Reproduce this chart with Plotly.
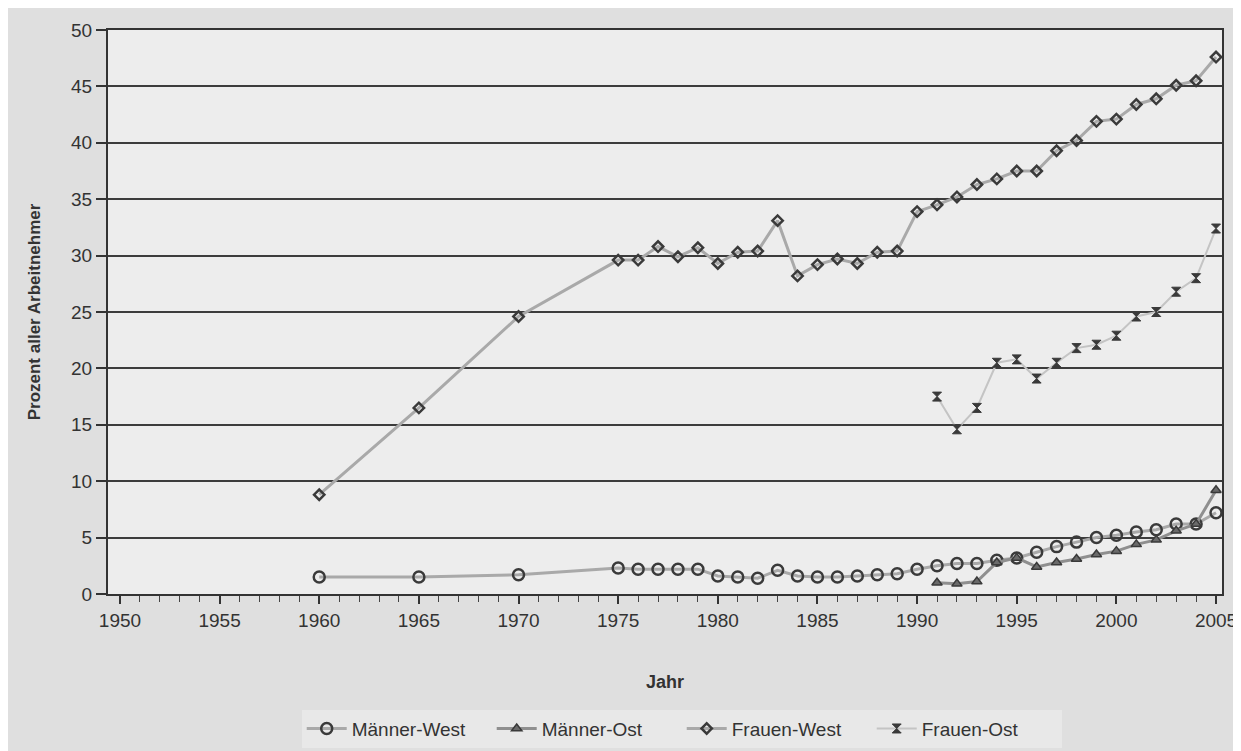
import plotly.graph_objects as go

years_west = [1960, 1965, 1970] + list(range(1975, 2006))
years_ost = list(range(1991, 2006))

maenner_west = [1.5, 1.5, 1.7,
                2.3, 2.2, 2.2, 2.2, 2.2, 1.6, 1.5, 1.4, 2.1, 1.6,
                1.5, 1.5, 1.6, 1.7, 1.8, 2.2, 2.5, 2.7, 2.7, 3.0,
                3.2, 3.7, 4.2, 4.6, 5.0, 5.2, 5.5, 5.7, 6.2, 6.2, 7.2]
frauen_west = [8.8, 16.5, 24.6,
               29.6, 29.6, 30.8, 29.9, 30.7, 29.3, 30.3, 30.4, 33.1, 28.2,
               29.2, 29.7, 29.3, 30.3, 30.4, 33.9, 34.5, 35.2, 36.3, 36.8,
               37.5, 37.5, 39.3, 40.2, 41.9, 42.1, 43.4, 43.9, 45.1, 45.5, 47.6]
maenner_ost = [1.0, 0.9, 1.1, 2.8, 3.2, 2.4, 2.8, 3.1, 3.5, 3.8, 4.4, 4.8, 5.6, 6.2, 9.2]
frauen_ost = [17.5, 14.6, 16.5, 20.5, 20.8, 19.1, 20.5, 21.8, 22.1, 22.9, 24.6, 25.0, 26.8, 28.0, 32.4]

x_ticks = list(range(1950, 2006, 5))
y_ticks = list(range(0, 51, 5))

FONT = "Liberation Sans, Arial, sans-serif"
LINE = "#a9a9a9"
MARK = "#3a3a3a"

fig = go.Figure()
fig.add_trace(go.Scatter(
    x=years_west, y=maenner_west, name="Männer-West", mode="lines+markers",
    line=dict(color=LINE, width=3),
    marker=dict(symbol="circle-open", size=11, color=MARK, line=dict(width=2.5, color=MARK))))
fig.add_trace(go.Scatter(
    x=years_ost, y=maenner_ost, name="Männer-Ost", mode="lines+markers",
    line=dict(color="#8f8f8f", width=3),
    marker=dict(symbol="triangle-up", size=9, color="#6a6a6a", line=dict(width=1.5, color=MARK))))
fig.add_trace(go.Scatter(
    x=years_west, y=frauen_west, name="Frauen-West", mode="lines+markers",
    line=dict(color=LINE, width=3),
    marker=dict(symbol="diamond-open", size=8, color=MARK, line=dict(width=2.5, color=MARK))))
fig.add_trace(go.Scatter(
    x=years_ost, y=frauen_ost, name="Frauen-Ost", mode="lines+markers",
    line=dict(color="#c4c4c4", width=2),
    marker=dict(symbol="hourglass", size=9, color=MARK, line=dict(width=1, color=MARK))))

fig.update_layout(
    width=1241, height=751,
    paper_bgcolor="#dfdfdf", plot_bgcolor="#ededed",
    margin=dict(l=100, r=26, t=20, b=147),
    font=dict(family=FONT, size=19, color="#333333"),
    showlegend=True,
    legend=dict(orientation="h", x=0.515, xanchor="center", y=-0.205, yanchor="top",
                bgcolor="#e8e8e8", font=dict(size=19, color="#333333"),
                itemwidth=40, entrywidth=135, entrywidthmode="pixels", tracegroupgap=0),
    xaxis=dict(
        range=[1949.4, 2005.3], tickmode="array", tickvals=x_ticks,
        ticktext=[str(v) for v in x_ticks],
        showgrid=False, zeroline=False,
        showline=True, linecolor="#333333", linewidth=2, mirror=True,
        ticks="outside", ticklen=8, tickwidth=1.5, tickcolor="#333333",
        minor=dict(dtick=1, ticks="outside", ticklen=6, tickwidth=1.2, tickcolor="#444444"),
        title=dict(text="<b>Jahr</b>", font=dict(size=18), standoff=46),
        tickfont=dict(size=19)),
    yaxis=dict(
        range=[0, 50], tickmode="array", tickvals=y_ticks,
        showgrid=True, gridcolor="#3c3c3c", gridwidth=2, zeroline=False,
        showline=True, linecolor="#333333", linewidth=2, mirror=True,
        ticks="outside", ticklen=10, tickwidth=1.5, tickcolor="#333333",
        title=dict(text="<b>Prozent aller Arbeitnehmer</b>", font=dict(size=17), standoff=26),
        tickfont=dict(size=19)),
)

fig.write_html("out.html")
